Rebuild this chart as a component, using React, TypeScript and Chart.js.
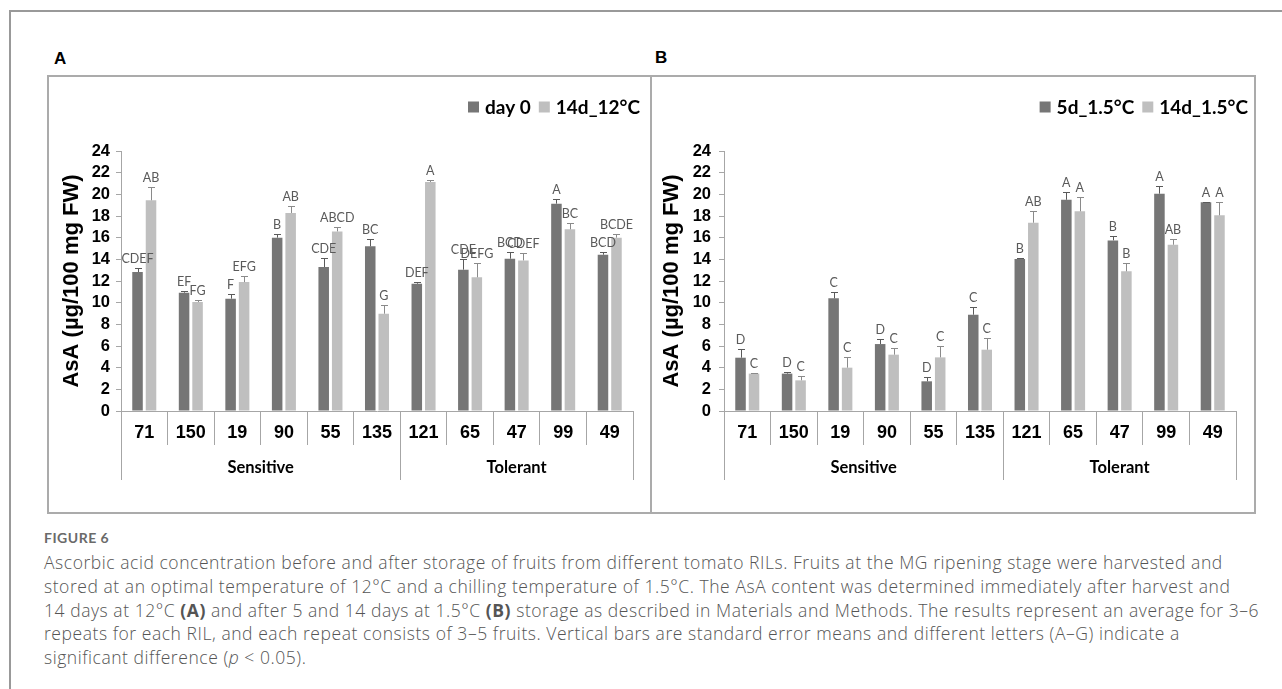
import React, { useEffect, useRef } from "react";
import { Chart, registerables } from "chart.js";

Chart.register(...registerables);

// ---------- data ----------
const lines = ["71", "150", "19", "90", "55", "135", "121", "65", "47", "99", "49"];
const groupNames = ["Sensitive", "Tolerant"];
const groupSizes = [6, 5];
const yMin = 0;
const yMax = 24;
const yStep = 2;

// Panel A
const aSeriesNames = ["day 0", "14d_12°C"];
const aDay0 = [12.83, 10.92, 10.37, 16.0, 13.29, 15.2, 11.75, 13.05, 14.06, 19.14, 14.43];
const aDay0Err = [0.37, 0.12, 0.46, 0.3, 0.83, 0.65, 0.15, 1.0, 0.6, 0.43, 0.25];
const aDay0Letters = ["CDEF", "EF", "F", "B", "CDE", "BC", "DEF", "CDE", "BCD", "A", "BCD"];
const a14d = [19.45, 10.06, 11.9, 18.28, 16.58, 8.98, 21.14, 12.34, 13.9, 16.77, 16.0];
const a14dErr = [1.23, 0.15, 0.6, 0.6, 0.4, 0.77, 0.15, 1.35, 0.68, 0.58, 0.34];
const a14dLetters = ["AB", "FG", "EFG", "AB", "ABCD", "G", "A", "DEFG", "CDEF", "BC", "BCDE"];

// Panel B
const bSeriesNames = ["5d_1.5°C", "14d_1.5°C"];
const b5d = [4.92, 3.45, 10.4, 6.18, 2.74, 8.89, 14.03, 19.5, 15.75, 20.06, 19.26];
const b5dErr = [0.77, 0.15, 0.55, 0.47, 0.4, 0.74, 0.1, 0.75, 0.43, 0.71, 0.06];
const b5dLetters = ["D", "D", "C", "D", "D", "C", "B", "A", "B", "A", "A"];
const b14d = [3.45, 2.83, 4.0, 5.2, 4.95, 5.66, 17.38, 18.43, 12.89, 15.35, 18.06];
const b14dErr = [0.1, 0.4, 0.98, 0.65, 1.02, 1.08, 1.1, 1.3, 0.77, 0.53, 1.2];
const b14dLetters = ["C", "C", "C", "C", "C", "C", "AB", "A", "B", "AB", "A"];

const yTitle = "AsA (µg/100 mg FW)";

// ---------- styles ----------
const DARK = "#767676";
const LIGHT = "#bfbfbf";
const AXIS = "#a6a6a6";

const decorPlugin = {
  id: "panelDecor",
  afterDatasetsDraw(chart: any) {
    const { ctx } = chart;
    const ys = chart.scales.y;
    ctx.save();
    chart.data.datasets.forEach((ds: any, di: number) => {
      const meta = chart.getDatasetMeta(di);
      meta.data.forEach((el: any, i: number) => {
        const v = ds.data[i];
        const e = ds.errors[i];
        const yTop = Math.round(ys.getPixelForValue(v + e)) + 0.5;
        const x = Math.round(el.x) + 0.5;
        ctx.strokeStyle = ds.errorColor;
        ctx.lineWidth = 1;
        ctx.beginPath();
        ctx.moveTo(x, el.y);
        ctx.lineTo(x, yTop);
        ctx.moveTo(x - 3.5, yTop);
        ctx.lineTo(x + 3.5, yTop);
        ctx.stroke();
        ctx.fillStyle = "#5a5a5a";
        ctx.font = "12.5px Lato";
        ctx.textAlign = "center";
        ctx.textBaseline = "alphabetic";
        ctx.fillText(ds.letters[i], el.x, yTop - 6);
      });
    });
    ctx.restore();
  },
  afterDraw(chart: any, _args: any, opts: any) {
    const { ctx, chartArea } = chart;
    const xs = chart.scales.x;
    ctx.save();
    const bounds = [0];
    let acc = 0;
    groupSizes.forEach((n) => {
      acc += n;
      bounds.push(acc);
    });
    ctx.strokeStyle = AXIS;
    ctx.lineWidth = 1;
    bounds.forEach((b) => {
      const px = Math.round(xs.getPixelForValue(b - 0.5)) + 0.5;
      ctx.beginPath();
      ctx.moveTo(px, chartArea.bottom);
      ctx.lineTo(px, chartArea.bottom + 69);
      ctx.stroke();
    });
    ctx.fillStyle = "#000";
    ctx.font = "bold 16.5px Lato";
    ctx.textAlign = "center";
    ctx.textBaseline = "middle";
    groupNames.forEach((g, gi) => {
      const l = xs.getPixelForValue(bounds[gi] - 0.5);
      const r = xs.getPixelForValue(bounds[gi + 1] - 0.5);
      ctx.fillText(g, (l + r) / 2, chartArea.bottom + 57);
    });
    // legend (right aligned)
    ctx.font = "bold 19px Lato";
    ctx.textAlign = "left";
    ctx.textBaseline = "middle";
    const ds = chart.data.datasets;
    const sw = 11;
    const gapSwText = 6;
    const gapItems = 8;
    const widths = ds.map((d: any) => ctx.measureText(d.label).width);
    let total = 0;
    ds.forEach((_d: any, i: number) => {
      total += sw + gapSwText + widths[i] + (i < ds.length - 1 ? gapItems : 0);
    });
    let x = chart.width - opts.legendRight - total;
    const ly = opts.legendY;
    ds.forEach((d: any, i: number) => {
      ctx.fillStyle = d.backgroundColor;
      ctx.fillRect(x, ly - sw / 2, sw, sw);
      x += sw + gapSwText;
      ctx.fillStyle = "#000";
      ctx.fillText(d.label, x, ly + 1);
      x += widths[i] + gapItems;
    });
    ctx.restore();
  },
};

type PanelProps = {
  names: string[];
  v1: number[];
  e1: number[];
  l1: string[];
  v2: number[];
  e2: number[];
  l2: string[];
  titlePad: number;
  tickPad: number;
  legendRight: number;
  width: number;
  height: number;
  areaLeft: number;
  areaRight: number;
  areaTop: number;
  areaBottom: number;
};

function Panel(p: PanelProps) {
  const ref = useRef<HTMLCanvasElement | null>(null);
  useEffect(() => {
    if (!ref.current) return;
    const chart = new Chart(ref.current, {
      type: "bar",
      data: {
        labels: lines,
        datasets: [
          {
            label: p.names[0],
            data: p.v1,
            backgroundColor: DARK,
            borderWidth: 0,
            errors: p.e1,
            letters: p.l1,
            errorColor: "#5a5a5a",
          } as any,
          {
            label: p.names[1],
            data: p.v2,
            backgroundColor: LIGHT,
            borderWidth: 0,
            errors: p.e2,
            letters: p.l2,
            errorColor: "#8a8a8a",
          } as any,
        ],
      },
      options: {
        responsive: false,
        animation: false,
        devicePixelRatio: 1,
        layout: {
          padding: { left: 0, top: p.areaTop, right: p.width - p.areaRight, bottom: 0 },
        },
        datasets: {
          bar: { categoryPercentage: 0.58, barPercentage: 0.78 },
        },
        plugins: {
          legend: { display: false },
          tooltip: { enabled: false },
          panelDecor: { legendRight: p.legendRight, legendY: 31 },
        } as any,
        scales: {
          x: {
            type: "category",
            offset: true,
            grid: {
              offset: true,
              drawOnChartArea: false,
              drawTicks: true,
              tickLength: 34,
              color: AXIS,
              lineWidth: 1,
            },
            border: { display: true, color: AXIS, width: 1 },
            ticks: {
              color: "#000",
              font: { family: "Liberation Sans, Arial", weight: "bold", size: 18 },
              padding: -22.8,
              maxRotation: 0,
              autoSkip: false,
            },
            afterFit: (s: any) => {
              s.height = p.height - p.areaBottom;
            },
          },
          y: {
            min: yMin,
            max: yMax,
            ticks: {
              stepSize: yStep,
              autoSkip: false,
              maxTicksLimit: 50,
              color: "#000",
              font: { family: "Liberation Sans, Arial", weight: "bold", size: 16.5 },
              padding: p.tickPad,
            },
            grid: {
              drawOnChartArea: false,
              drawTicks: true,
              tickLength: 5,
              color: AXIS,
              lineWidth: 1,
            },
            border: { display: true, color: AXIS, width: 1 },
            title: {
              display: true,
              text: yTitle,
              color: "#000",
              font: { family: "Liberation Sans, Arial", weight: "bold", size: 22, lineHeight: 1.2 },
              padding: { top: p.titlePad, bottom: 0 },
            },
            afterFit: (s: any) => {
              s.width = p.areaLeft;
            },
          },
        },
      },
      plugins: [decorPlugin],
    } as any);
    let alive = true;
    if ((document as any).fonts && (document as any).fonts.ready) {
      (document as any).fonts.ready.then(() => {
        if (alive) chart.update();
      });
    }
    return () => {
      alive = false;
      chart.destroy();
    };
  }, []);
  return (
    <canvas
      ref={ref}
      width={p.width}
      height={p.height}
      style={{ width: p.width, height: p.height, display: "block" }}
    />
  );
}

const BOX_TOP = 76;
const BOX_H = 438;

export default function App() {
  const captionStyle: React.CSSProperties = {
    position: "absolute",
    left: 44,
    top: 551,
    fontFamily: "'Open Sans', Lato, sans-serif",
    fontWeight: 300,
    fontSize: 17.5,
    letterSpacing: "0.55px",
    lineHeight: "23.75px",
    color: "#555555",
    whiteSpace: "nowrap",
  };
  const letterStyle: React.CSSProperties = {
    position: "absolute",
    lineHeight: "20px",
    fontFamily: "Liberation Sans, Arial",
    fontWeight: "bold",
    fontSize: 17,
  };
  return (
    <div
      style={{
        position: "absolute",
        left: 0,
        top: 0,
        width: 1282,
        height: 689,
        background: "#fff",
        overflow: "hidden",
      }}
    >
      {/* outer frame */}
      <div style={{ position: "absolute", left: 9, top: 10, width: 1290, height: 2, background: "#999" }} />
      <div style={{ position: "absolute", left: 9, top: 10, width: 2, height: 700, background: "#999" }} />

      {/* panel letters */}
      <div style={{ ...letterStyle, left: 54, top: 49 }}>A</div>
      <div style={{ ...letterStyle, left: 655, top: 48 }}>B</div>

      {/* panel A */}
      <div style={{ position: "absolute", left: 48, top: BOX_TOP }}>
        <Panel
          names={aSeriesNames}
          v1={aDay0}
          e1={aDay0Err}
          l1={aDay0Letters}
          v2={a14d}
          e2={a14dErr}
          l2={a14dLetters}
          titlePad={10.5}
          tickPad={6}
          legendRight={11}
          width={603}
          height={BOX_H}
          areaLeft={73}
          areaRight={585}
          areaTop={75}
          areaBottom={335}
        />
      </div>
      {/* panel B */}
      <div style={{ position: "absolute", left: 651, top: BOX_TOP }}>
        <Panel
          names={bSeriesNames}
          v1={b5d}
          e1={b5dErr}
          l1={b5dLetters}
          v2={b14d}
          e2={b14dErr}
          l2={b14dLetters}
          titlePad={8}
          tickPad={8}
          legendRight={7}
          width={604}
          height={BOX_H}
          areaLeft={73}
          areaRight={585}
          areaTop={75}
          areaBottom={335}
        />
      </div>
      {/* panel borders */}
      <div
        style={{
          position: "absolute",
          left: 47,
          top: BOX_TOP - 1,
          width: 605,
          height: BOX_H + 1,
          boxSizing: "border-box",
          border: "2px solid #ababab",
          pointerEvents: "none",
        }}
      />
      <div
        style={{
          position: "absolute",
          left: 650,
          top: BOX_TOP - 1,
          width: 606,
          height: BOX_H + 1,
          boxSizing: "border-box",
          border: "2px solid #ababab",
          pointerEvents: "none",
        }}
      />

      {/* caption */}
      <div
        style={{
          position: "absolute",
          left: 44,
          top: 529,
          lineHeight: "18px",
          fontFamily: "Lato, sans-serif",
          fontWeight: 700,
          fontSize: 14,
          letterSpacing: "0.5px",
          color: "#6a6a6a",
        }}
      >
        FIGURE 6
      </div>
      <div style={captionStyle}>
        Ascorbic acid concentration before and after storage of fruits from different tomato RILs. Fruits at the MG ripening stage were harvested and
        <br />
        stored at an optimal temperature of 12°C and a chilling temperature of 1.5°C. The AsA content was determined immediately after harvest and
        <br />
        14 days at 12°C <b style={{ fontWeight: 700 }}>(A)</b> and after 5 and 14 days at 1.5°C <b style={{ fontWeight: 700 }}>(B)</b> storage as described in Materials and Methods. The results represent an average for 3–6
        <br />
        repeats for each RIL, and each repeat consists of 3–5 fruits. Vertical bars are standard error means and different letters (A–G) indicate a
        <br />
        significant difference (<i>p</i> &lt; 0.05).
      </div>
    </div>
  );
}
